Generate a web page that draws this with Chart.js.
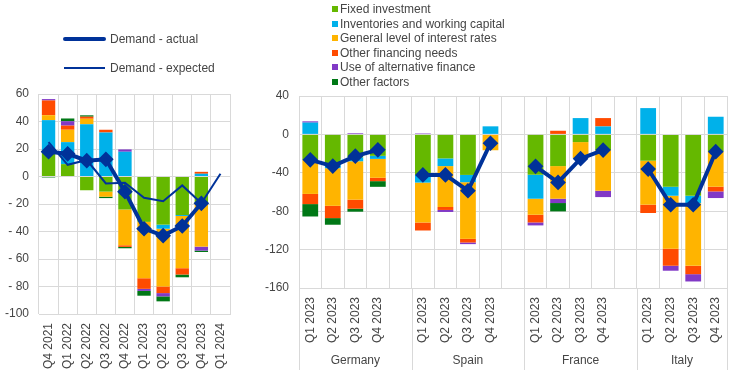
<!DOCTYPE html>
<html>
<head>
<meta charset="utf-8">
<script src="https://cdn.jsdelivr.net/npm/chart.js@4/dist/chart.umd.min.js"></script>
<style>
  body { margin: 0; width: 744px; height: 384px; overflow: hidden; position: relative; background: #fff;
         font-family: "Liberation Sans", Arial, sans-serif; }
  #left { position: absolute; left: 0; top: 0; }
  #right { position: absolute; left: 250px; top: 0; }
  .leg { position: absolute; font-size: 12px; color: #454545; white-space: nowrap; line-height: 14px; }
  .sw { position: absolute; width: 6px; height: 6px; }
  .ln { position: absolute; background: #003299; }
</style>
</head>
<body>
<canvas id="left" width="250" height="384"></canvas>
<canvas id="right" width="494" height="384"></canvas>
<div id="legends"></div>
<script>
// left panel: euro area
const leftLabels = ['Q4 2021', 'Q1 2022', 'Q2 2022', 'Q3 2022', 'Q4 2022', 'Q1 2023', 'Q2 2023', 'Q3 2023', 'Q4 2023', 'Q1 2024'];
const eaFixed = [19, 9, -10, -11, -24, -33, -35, -28, -20, null];
const eaInventories = [22, 16, 38, 32, 18, 0, -3, -0.7, 2, null];
const eaRates = [3.6, 9, 4, -3.7, -26, -41, -42, -38, -31, null];
const eaOtherFin = [10.7, 3, 1.5, 2, -1.2, -7.7, -4.8, -4.6, 1.4, null];
const eaAltFin = [1, 3.2, 0, 0, 1.7, -1.5, -2.4, 0, -2.9, null];
const eaOtherFactors = [-0.7, 2, 1, -1, -1, -3.5, -3.6, -2, -1, null];
const eaActual = [18, 16.5, 11.5, 12.5, -11, -38, -43, -36, -19.5, null];
const eaExpected = [25, 8.5, 12, -5, -4.5, -15.5, -18, -6.5, -19.5, 2];

// right panel: countries, Q1-Q4 2023
const countries = ['Germany', 'Spain', 'France', 'Italy'];
const quarters = ['Q1 2023', 'Q2 2023', 'Q3 2023', 'Q4 2023'];
const fixedByCountry = [[-26.5, -30.5, -24, -22.3], [-42.2, -25, -42.2, 0], [-42, -33, -8, -16.3], [-27.4, -54.5, -64, -18]];
const inventoriesByCountry = [[12.3, -4.7, -4, -3.2], [-8, -8, -7.6, 8.4], [-25, 0, 17, 8.3], [27.4, -9.4, -7.6, 18.4]];
const ratesByCountry = [[-35.5, -39.2, -40, -19.7], [-41.6, -42.6, -59, -16.5], [-16.7, -34, -16.7, -42.4], [-45.8, -55.2, -65.3, -36.5]];
const otherFinByCountry = [[-10.6, -12.8, -9.4, -3.5], [-8.3, -3.1, -3.8, 0], [-8, 3.8, 0, 8.7], [-8.7, -17.7, -8.7, -4.9]];
const altFinByCountry = [[1.3, 0, 1.2, 0], [1, -2.1, -1.7, 0], [-3.1, -4.5, 0, -6.6], [0, -5.2, -7.6, -6.9]];
const otherFactorsByCountry = [[-12.9, -6.9, -3.1, -5.9], [0, 0, 0, 0], [0, -8.7, 0, 0], [0, 0, 0, 0]];
const actualByCountry = [[-26.5, -33, -22.7, -16.1], [-42.2, -42.2, -58.7, -9.2], [-33.3, -50, -25.3, -16.3], [-36.1, -73.3, -73.3, -18]];

const seriesNames = ['Fixed investment', 'Inventories and working capital', 'General level of interest rates',
  'Other financing needs', 'Use of alternative finance', 'Other factors'];
const colors = ['#65B800', '#00B1EA', '#FFB400', '#FF4B00', '#8139C6', '#007816'];
const navy = '#003299';
const grid = '#d9d9d9';
const textColor = '#454545';
const font = { family: '"Liberation Sans", Arial, sans-serif', size: 12 };

// join the country blocks with an empty slot between them
function joined(blocks, gap) {
  let out = [];
  blocks.forEach((b, i) => {
    out = out.concat(b);
    if (i < blocks.length - 1) out.push(gap);
  });
  return out;
}
const rightLabels = joined(countries.map(() => quarters), '');

function barSets(arrays) {
  return arrays.map((data, i) => ({
    type: 'bar', label: seriesNames[i], data, backgroundColor: colors[i],
    stack: 'bars', order: 2, barPercentage: 0.7, categoryPercentage: 1
  }));
}

function axes(min, max, step, yWidth, xHeight, fmt) {
  return {
    x: {
      stacked: true,
      grid: { color: grid, offset: true, drawTicks: false },
      border: { color: grid },
      ticks: { color: textColor, font, minRotation: 90, maxRotation: 90, autoSkip: false, padding: 9 },
      afterFit: s => { s.height = xHeight; }
    },
    y: {
      stacked: true, min, max,
      grid: { color: grid, drawTicks: false },
      border: { display: false },
      ticks: { color: textColor, font, stepSize: step, padding: 10, callback: fmt },
      afterFit: s => { s.width = yWidth; }
    }
  };
}

new Chart(document.getElementById('left'), {
  data: {
    labels: leftLabels,
    datasets: [
      { type: 'line', label: 'Demand - actual', data: eaActual, borderColor: navy, backgroundColor: navy,
        borderWidth: 4, pointStyle: 'rectRot', pointRadius: 5, stack: 'a', order: 0 },
      { type: 'line', label: 'Demand - expected', data: eaExpected, borderColor: navy, borderWidth: 2,
        pointRadius: 0, stack: 'e', order: 1 },
      ...barSets([eaFixed, eaInventories, eaRates, eaOtherFin, eaAltFin, eaOtherFactors])
    ]
  },
  options: {
    responsive: false, animation: false,
    layout: { padding: { top: 94, right: 20, left: 0, bottom: 0 } },
    plugins: { legend: { display: false }, tooltip: { enabled: false } },
    scales: axes(-100, 60, 20, 39, 70, v => v < 0 ? (v <= -100 ? '-' + (-v) : '- ' + (-v)) : v)
  }
});

const groupLabels = {
  id: 'groupLabels',
  afterDraw(chart) {
    const { ctx, chartArea, scales: { x } } = chart;
    const step = x.getPixelForValue(1) - x.getPixelForValue(0);
    ctx.save();
    ctx.strokeStyle = grid;
    ctx.lineWidth = 1;
    ctx.fillStyle = textColor;
    ctx.font = '12px "Liberation Sans", Arial, sans-serif';
    ctx.textAlign = 'center';
    ctx.textBaseline = 'middle';
    countries.forEach((name, i) => {
      const first = i * 5;
      const last = Math.min(first + 4, rightLabels.length - 1);
      const x0 = x.getPixelForValue(first) - step / 2;
      const x1 = x.getPixelForValue(last) + step / 2;
      [x0, x1].forEach(px => {
        ctx.beginPath();
        ctx.moveTo(Math.round(px) + 0.5, chartArea.bottom);
        ctx.lineTo(Math.round(px) + 0.5, chartArea.bottom + 82);
        ctx.stroke();
      });
      ctx.fillText(name, (x0 + x1) / 2, chartArea.bottom + 73);
    });
    ctx.restore();
  }
};

new Chart(document.getElementById('right'), {
  data: {
    labels: rightLabels,
    datasets: [
      { type: 'line', label: 'Demand - actual', data: joined(actualByCountry, null), borderColor: navy,
        backgroundColor: navy, borderWidth: 4, pointStyle: 'rectRot', pointRadius: 5, spanGaps: false,
        stack: 'a', order: 0 },
      ...barSets([fixedByCountry, inventoriesByCountry, ratesByCountry, otherFinByCountry, altFinByCountry,
        otherFactorsByCountry].map(a => joined(a, null)))
    ]
  },
  options: {
    responsive: false, animation: false,
    layout: { padding: { top: 96, right: 17, left: 0, bottom: 0 } },
    plugins: { legend: { display: false }, tooltip: { enabled: false } },
    scales: axes(-160, 40, 40, 49, 96)
  },
  plugins: [groupLabels]
});

// legends
const legends = document.getElementById('legends');
let html = '';
html += '<div class="ln" style="left:63px;top:37px;width:43px;height:4px;border-radius:2px"></div>';
html += '<div class="leg" style="left:110px;top:32px">Demand - actual</div>';
html += '<div class="ln" style="left:64px;top:67px;width:41px;height:2px"></div>';
html += '<div class="leg" style="left:110px;top:61px">Demand - expected</div>';
seriesNames.forEach((name, i) => {
  const y = 9 + i * 14.6;
  html += '<div class="sw" style="left:332px;top:' + (y - 3) + 'px;background:' + colors[i] + '"></div>';
  html += '<div class="leg" style="left:340px;top:' + (y - 7) + 'px">' + name + '</div>';
});
legends.innerHTML = html;
</script>
</body>
</html>
